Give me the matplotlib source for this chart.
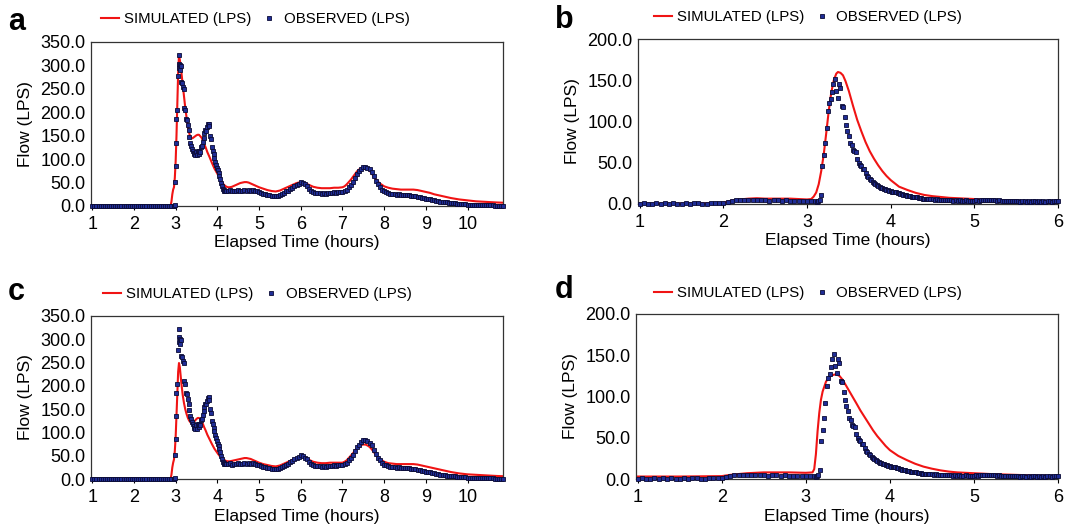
import numpy as np
import matplotlib
matplotlib.use('Agg')
import matplotlib.pyplot as plt
from matplotlib.lines import Line2D

plt.rcParams['font.family'] = ['Liberation Sans', 'DejaVu Sans']

# ---------------- observed flow, events a / c ----------------
obs_ac_base = [0.5] * 40            # 1.00 .. 2.95 h, every 0.05 h
obs_ac_peak_t = [2.97, 2.98, 2.99, 3.00, 3.01, 3.02, 3.03, 3.05, 3.07, 3.08, 3.09, 3.10, 3.11, 3.12, 3.13,
                 3.15, 3.17, 3.19, 3.21, 3.23, 3.25, 3.27, 3.29, 3.31, 3.33, 3.35, 3.37, 3.39, 3.41, 3.43,
                 3.45, 3.47, 3.49, 3.51, 3.53, 3.55, 3.57, 3.59, 3.61, 3.63, 3.65, 3.67, 3.69, 3.71, 3.73,
                 3.75, 3.77, 3.79, 3.81, 3.83, 3.85, 3.87, 3.89, 3.91, 3.93, 3.95, 3.97, 3.99, 4.01, 4.03,
                 4.05, 4.07, 4.09, 4.11, 4.13, 4.15, 4.17, 4.19, 4.21]
obs_ac_peak_v = [1, 3, 51, 86, 135, 185, 205, 277, 323, 304, 295, 290, 300, 298, 265,
                 263, 254, 250, 210, 205, 185, 183, 172, 162, 148, 135, 128, 122, 118, 113,
                 110, 108, 115, 108, 118, 112, 118, 115, 126, 128, 137, 145, 155, 162, 160,
                 168, 174, 176, 170, 150, 142, 125, 118, 110, 102, 94, 87, 82, 76, 70,
                 64, 57, 50, 42, 37, 34, 33, 32, 33]
obs_ac_tail = [32, 34, 31, 33, 32, 34, 33, 32, 34, 33, 35, 33, 34, 33, 31,           # 4.25 ..
               29, 27, 26, 25, 24, 23, 22, 21, 22, 22, 24, 26, 28, 31, 33,
               36, 39, 42, 45, 48, 51, 50, 46, 42, 37, 32, 29, 28, 27, 28,
               26, 27, 26, 28, 27, 28, 29, 28, 30, 29, 30, 32, 35, 40, 45,
               52, 60, 68, 74, 79, 83, 84, 82, 78, 72, 63, 54, 46, 40, 35,
               31, 29, 27, 26, 25, 25, 24, 25, 24, 24, 23, 24, 23, 22, 22,
               21, 20, 19, 18, 17, 16, 15, 14, 13, 12, 11, 10, 9.5, 9, 8,
               7.5, 7, 6.5, 6, 5.5, 5, 4.5, 4, 4, 3.5, 3, 3, 2.5, 2.5, 2,
               2, 2, 1.5, 3, 1.5, 1.5, 1.5, 3, 1, 1, 1, 1, 1]

# ---------------- simulated flow, events a / c ----------------
sim_ac_t = [1.0, 2.88, 2.90, 2.92, 2.94, 2.96, 2.98, 3.00, 3.02, 3.04, 3.06, 3.08, 3.10, 3.12, 3.14,
            3.17, 3.20, 3.23, 3.26, 3.29, 3.32, 3.35, 3.38, 3.41, 3.44, 3.47, 3.50, 3.53, 3.56, 3.59,
            3.62, 3.65, 3.68, 3.72, 3.76, 3.81, 3.87, 3.93, 4.00, 4.05, 4.10, 4.15, 4.20, 4.25, 4.30,
            4.35, 4.40, 4.45, 4.50, 4.55, 4.60, 4.65, 4.70, 4.75, 4.80, 4.85, 4.90, 4.95, 5.00, 5.10,
            5.20, 5.30, 5.40, 5.50, 5.60, 5.70, 5.80, 5.90, 6.00, 6.05, 6.10, 6.20, 6.30, 6.40, 6.50,
            6.60, 6.70, 6.80, 6.90, 7.00, 7.05, 7.10, 7.15, 7.20, 7.25, 7.30, 7.35, 7.40, 7.45, 7.50,
            7.55, 7.60, 7.65, 7.70, 7.75, 7.80, 7.85, 7.90, 7.95, 8.00, 8.10, 8.20, 8.30, 8.40, 8.50,
            8.60, 8.70, 8.80, 8.90, 9.00, 9.10, 9.20, 9.30, 9.40, 9.50, 9.60, 9.70, 9.80, 9.90, 10.00,
            10.10, 10.20, 10.30, 10.40, 10.50, 10.60, 10.70, 10.85]
sim_a = [0, 0, 10, 25, 35, 40, 60, 95, 150, 215, 285, 321, 312, 298, 283,
         258, 233, 210, 190, 170, 157, 148, 144, 145, 147, 149, 151, 152, 152, 149,
         146, 140, 133, 125, 115, 105, 92, 80, 69, 61, 52, 46, 42, 40, 40,
         41, 43, 45, 47, 49, 50, 51, 51, 50, 48, 46, 44, 42, 40, 37,
         34, 32, 31, 33, 37, 41, 45, 49, 51, 51, 49, 45, 41, 39, 38,
         38, 38, 39, 39, 40, 42, 46, 51, 56, 62, 68, 74, 78, 81, 82,
         82, 80, 76, 70, 63, 57, 52, 48, 45, 42, 39, 37, 36, 35, 35,
         35, 35, 34, 32, 30, 28, 25, 23, 21, 19, 17, 15.5, 14, 13, 12,
         11, 10, 9.5, 9, 8.5, 8, 7.5, 7]
sim_c = [0, 0, 10, 25, 35, 42, 60, 90, 135, 185, 230, 249, 240, 222, 203,
         180, 163, 150, 140, 132, 126, 122, 120, 121, 123, 126, 129, 131, 131, 129,
         125, 119, 112, 104, 95, 86, 75, 65, 56, 50, 46, 42, 39, 38, 38,
         39, 40, 41, 42, 43, 44, 45, 45, 44, 43, 41, 39, 37, 35, 32,
         30, 28, 27, 29, 33, 37, 41, 45, 48, 48, 46, 41, 37, 35, 34,
         34, 35, 35, 35, 35, 37, 40, 45, 50, 55, 61, 66, 70, 73, 74,
         74, 72, 69, 64, 58, 52, 47, 43, 40, 37, 34, 33, 32, 32, 32,
         32, 32, 31, 29, 27, 25, 23, 21, 19, 17, 15, 13.5, 12, 11, 10,
         9.5, 9, 8.5, 8, 7.5, 7, 6.5, 6]

# ---------------- observed flow, events b / d ----------------
obs_bd_base = [0.5, 0.8, 0.5, 0.6, 0.8, 0.5, 0.7, 0.5, 0.9, 0.6,      # 1.00 .. 3.10, every 0.05 h
               0.5, 0.8, 0.6, 1.2, 0.7, 0.5, 0.6, 0.8, 0.7, 1.0,
               1.5, 3.0, 4.0, 4.5, 5.0, 4.8, 5.2, 5.0, 4.6, 4.8,
               4.5, 4.2, 4.8, 4.4, 4.0, 4.3, 3.9, 4.1, 3.6, 3.8,
               3.4, 3.5, 3.2]
obs_bd_peak = [3.0, 3.8, 5, 11, 46, 60, 74, 92, 113, 123,           # from 3.117 h, every minute
               127, 136, 146, 151, 137, 129, 145, 141, 119, 118,
               106, 96, 88, 82, 74, 72, 65, 64, 63, 54,
               50, 47, 46, 43, 42, 38, 34, 33, 30, 29,
               27, 26, 24, 23, 22, 20.5, 19, 19.5, 18, 18,
               17, 16.5, 16, 15.5, 15, 14.5, 14.5, 14, 13, 13,
               12.5, 12, 11.5, 11, 10.5, 10, 10, 9.5, 9, 8.5,
               8.5, 8, 8, 7.5, 7, 7, 6.5, 6.5, 6, 6,
               6, 5.5]
obs_bd_tail = [5.5, 5, 5.5, 5, 4.5, 5, 4.5, 5, 4.5, 4.5,             # 4.50 .. 6.00, every 0.025 h
               4, 4.5, 4, 4.5, 4, 4, 4.5, 4, 4, 3.5,
               4, 4.5, 4, 4.5, 5, 4.5, 5, 4.5, 5, 4.5,
               4.5, 4, 4.5, 4, 3.5, 4, 4, 3.5, 4, 3.5,
               3.5, 4, 3, 3.5, 4, 3, 3.5, 3, 3.5, 4,
               3, 3.5, 3, 4, 3, 3.5, 4, 3, 3.5, 4,
               4]

# ---------------- simulated flow, events b / d ----------------
sim_b_t = [1.0, 1.5, 1.9, 2.0, 2.1, 2.2, 2.3, 2.4, 2.5, 2.6, 2.7, 2.8, 2.9, 3.0, 3.05,
           3.08, 3.11, 3.14, 3.17, 3.20, 3.23, 3.26, 3.29, 3.32, 3.35, 3.37, 3.40, 3.43, 3.46, 3.50,
           3.55, 3.60, 3.65, 3.70, 3.75, 3.80, 3.85, 3.90, 3.95, 4.00, 4.10, 4.20, 4.30, 4.40, 4.50,
           4.60, 4.70, 4.80, 5.00, 5.20, 5.25, 5.40, 6.00]
sim_b = [0.5, 0.5, 0.8, 1.5, 4, 5.5, 6.5, 7, 6.5, 6.5, 6.5, 6.5, 6, 5.5, 6,
         9, 14, 24, 40, 60, 86, 113, 135, 150, 158, 160, 159, 156, 149, 137,
         119, 102, 88, 75, 64, 55, 47, 40, 34, 29, 21, 17, 13.5, 11, 9.5,
         8.5, 7.5, 7, 6, 5, 3, 2, 1.5]
sim_d_t = [1.0, 1.5, 2.0, 2.1, 2.3, 2.5, 2.8, 3.0, 3.08, 3.10, 3.12, 3.14, 3.16, 3.18, 3.20,
           3.24, 3.28, 3.32, 3.36, 3.40, 3.44, 3.48, 3.52, 3.56, 3.60, 3.65, 3.70, 3.75, 3.80, 3.85,
           3.90, 3.95, 4.00, 4.10, 4.20, 4.30, 4.40, 4.50, 4.60, 4.70, 4.80, 5.00, 5.20, 5.50, 5.80,
           6.00]
sim_d = [3, 3, 3.5, 5, 7, 8, 8, 7.5, 8, 12, 30, 58, 80, 96, 106,
         118, 124, 126, 127, 125, 120, 113, 106, 99, 92, 83, 75, 67, 59, 52,
         46, 40, 35, 28, 23, 18.5, 15, 12.5, 10.5, 9, 8, 7, 6, 5, 4,
         3.5]

# time axes for the evenly sampled observed segments
t_ac = np.concatenate([1.0 + 0.05 * np.arange(len(obs_ac_base)),
                       obs_ac_peak_t,
                       4.25 + 0.05 * np.arange(len(obs_ac_tail))])
v_ac = np.concatenate([obs_ac_base, obs_ac_peak_v, obs_ac_tail])
t_bd = np.concatenate([1.0 + 0.05 * np.arange(len(obs_bd_base)),
                       3.1 + (np.arange(len(obs_bd_peak)) + 1) / 60.0,
                       4.5 + 0.025 * np.arange(len(obs_bd_tail))])
v_bd = np.concatenate([obs_bd_base, obs_bd_peak, obs_bd_tail])

RED = '#f01414'
FILL = '#1f2d96'
EDGE = '#0b0b35'

W, H = 1067, 530
fig = plt.figure(figsize=(W / 100, H / 100), dpi=100)


def box(l, t, r, b):
    return [l / W, 1 - b / H, (r - l) / W, (b - t) / H]


panels = [
    ('a', box(91, 42, 503, 206), sim_ac_t, sim_a, t_ac, v_ac, (0.97, 10.85), 350, (8, 30), (255, 19)),
    ('b', box(638, 39, 1058, 204), sim_b_t, sim_b, t_bd, v_bd, (0.98, 6.0), 200, (555, 28), (808, 17)),
    ('c', box(91, 316, 503, 479), sim_ac_t, sim_c, t_ac, v_ac, (0.97, 10.85), 350, (8, 300), (257, 294)),
    ('d', box(636, 314, 1058, 479), sim_d_t, sim_d, t_bd, v_bd, (0.98, 6.0), 200, (555, 298), (808, 293)),
]

for letter, rect, st, sv, ot, ov, xl, ymax, lpos, legpos in panels:
    ax = fig.add_axes(rect)
    ax.plot(st, sv, color=RED, lw=1.5, zorder=2)
    ax.plot(ot, ov, ls='none', marker='s', ms=3.0, mfc=FILL, mec=EDGE, mew=0.6,
            zorder=3, clip_on=False)
    ax.set_xlim(*xl)
    ax.set_ylim(0, ymax)
    top = int(xl[1])
    ax.set_xticks(range(1, top + 1))
    ax.set_yticks(np.arange(0, ymax + 1, 50))
    ax.set_yticklabels(['%.1f' % v for v in np.arange(0, ymax + 1, 50)])
    ax.tick_params(labelsize=13, length=3, width=0.8, pad=4)
    ax.tick_params(axis='y', length=0, pad=4)
    for s in ax.spines.values():
        s.set_linewidth(0.9)
        s.set_color('#333333')
    ax.set_xlabel('Elapsed Time (hours)', fontsize=12.5, labelpad=2)
    ax.set_ylabel('Flow (LPS)', fontsize=12.5, labelpad=5)

    fig.text(lpos[0] / W, 1 - lpos[1] / H, letter, fontsize=22, fontweight='bold',
             va='baseline', ha='left')

    handles = [Line2D([], [], color=RED, lw=1.5),
               Line2D([], [], ls='none', marker='s', ms=3.2, mfc=FILL, mec=EDGE, mew=0.6)]
    fig.legend(handles, ['SIMULATED (LPS)', 'OBSERVED (LPS)'], loc='center',
               bbox_to_anchor=(legpos[0] / W, 1 - legpos[1] / H), ncol=2, frameon=False,
               fontsize=10.8, handlelength=1.2, handletextpad=0.35, columnspacing=0.6,
               borderpad=0, borderaxespad=0)

fig.savefig('out.png', dpi=100)
